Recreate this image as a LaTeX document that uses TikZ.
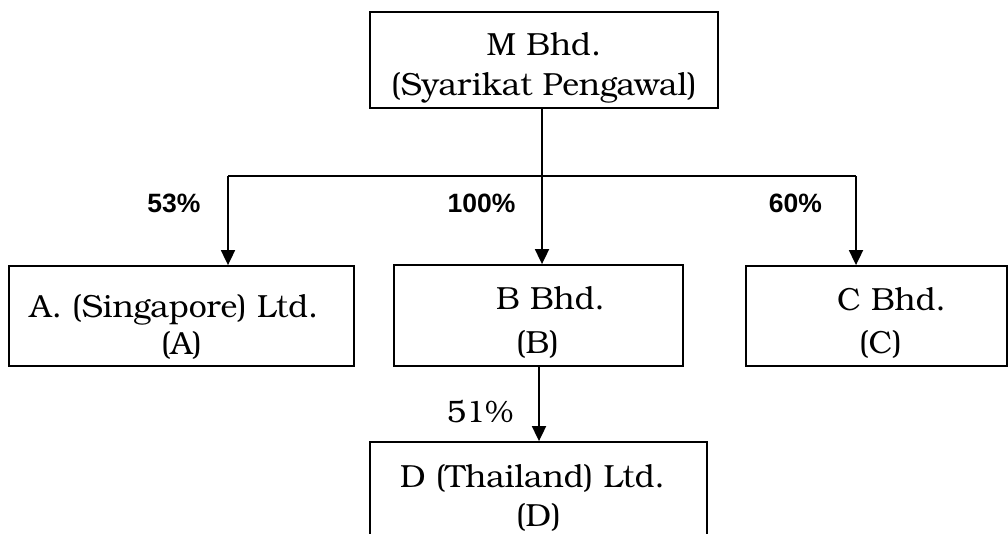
\documentclass[tikz,border=0pt]{standalone}
\usepackage{fontspec}
\setmainfont{TeX Gyre Bonum}
\newfontfamily\lsans{Liberation Sans}
\usetikzlibrary{arrows.meta}
\newcommand{\twoln}[3]{\raisebox{#1}[0pt][0pt]{\begin{tabular}{@{}c@{}}#2\\#3\end{tabular}}}
\begin{document}
\begin{tikzpicture}[x=1pt,y=-1pt,line width=1.8pt,
  box/.style={draw,line width=1.8pt,inner sep=0pt},
  pct/.style={font=\lsans\bfseries\fontsize{26.5}{30}\selectfont,inner sep=0pt},
  serifpct/.style={font=\fontsize{31}{34}\selectfont,inner sep=0pt},
  arr/.style={-{Triangle[length=15pt,width=14pt]},line width=1.8pt}]
\useasboundingbox (0,0) rectangle (1008,533);
\clip (0,0) rectangle (1008,533);
\node[box,minimum width=348pt,minimum height=96pt,font=\fontsize{32}{39.5}\selectfont] (M) at (544,60)
  {\twoln{-14pt}{M Bhd.}{(Syarikat Pengawal)}};
\node[box,minimum width=345pt,minimum height=100pt,font=\fontsize{32}{37}\selectfont] (A) at (181.5,316)
  {\twoln{-18.5pt}{A. (Singapore) Ltd.\hspace*{15pt}}{(A)}};
\node[box,minimum width=289pt,minimum height=101pt,font=\fontsize{32}{44}\selectfont] (B) at (538.5,315.5)
  {\twoln{-13.7pt}{\hspace*{24pt}B Bhd.}{(B)\hspace*{2pt}}};
\node[box,minimum width=261pt,minimum height=100pt,font=\fontsize{32}{43.5}\selectfont] (C) at (876.5,316)
  {\twoln{-13.5pt}{\hspace*{30pt}C Bhd.}{\hspace*{8pt}(C)}};
\node[box,minimum width=337pt,minimum height=118pt,font=\fontsize{32}{39}\selectfont] (D) at (538.5,501)
  {\twoln{-4pt}{D (Thailand) Ltd.\hspace*{12pt}}{(D)}};
\coordinate (jA) at (228,176);
\coordinate (jB) at (542,176);
\coordinate (jC) at (856,176);
\coordinate (jD) at (539,366);
\draw (M.south -| jB) -- (jB);
\draw (jA) -- (jC);
\draw[arr] (jA) -- (A.north -| jA);
\draw[arr] (jB) -- (B.north -| jB);
\draw[arr] (jC) -- (C.north -| jC);
\draw[arr] (B.south -| jD) -- (D.north -| jD);
\node[pct] (pA) at (174,203) {53\%};
\node[pct] (pB) at (481.5,203) {100\%};
\node[pct] (pC) at (795.5,203) {60\%};
\node[serifpct] (pD) at (480,412) {51\%};
\end{tikzpicture}
\end{document}
